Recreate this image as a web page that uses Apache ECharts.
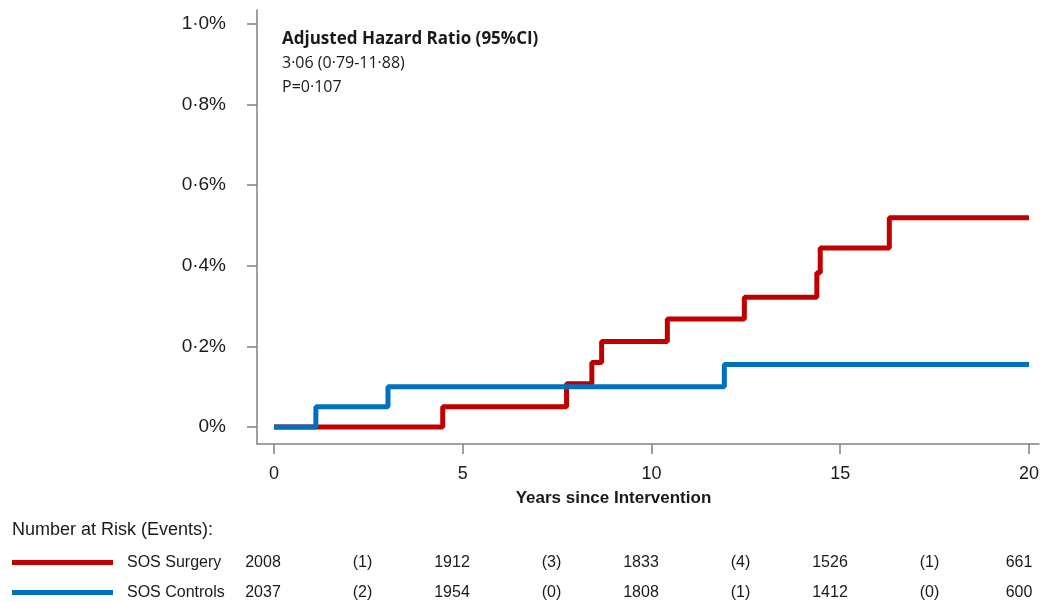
<!DOCTYPE html>
<html>
<head>
<meta charset="utf-8">
<script src="https://cdn.jsdelivr.net/npm/echarts@6/dist/echarts.min.js"></script>
<style>
  html, body { margin: 0; padding: 0; background: #fff; }
  #chart { width: 1042px; height: 602px; }
</style>
</head>
<body>
<div id="chart"></div>
<script>
// Cumulative incidence (%) step curves: [years, percent]
const surgeryCurve = [
  [0, 0], [4.47, 0.05], [7.75, 0.107], [8.42, 0.16], [8.68, 0.212],
  [10.42, 0.268], [12.46, 0.322], [14.38, 0.383], [14.47, 0.444],
  [16.3, 0.519], [20, 0.519]
];
const controlsCurve = [
  [0, 0], [1.11, 0.05], [3.02, 0.10], [11.93, 0.155], [20, 0.155]
];

// Axis ticks
const xTicks = [0, 5, 10, 15, 20];
const yTicks = [0, 0.2, 0.4, 0.6, 0.8, 1.0];

// Number at risk table
const groupNames = ['SOS Surgery', 'SOS Controls'];
const riskTimes = [0, 5, 10, 15, 20];
const eventTimes = [2.5, 7.5, 12.5, 17.5];
const surgeryAtRisk = [2008, 1912, 1833, 1526, 661];
const surgeryEvents = [1, 3, 4, 1];
const controlsAtRisk = [2037, 1954, 1808, 1412, 600];
const controlsEvents = [2, 0, 1, 0];

const RED = '#C00000';
const BLUE = '#0070C0';
const AXIS = '#808080';
const INK = '#1a1a1a';
const SANS = 'Liberation Sans, Arial, sans-serif';

function pct(v) {
  if (v === 0) return '0%';
  return v.toFixed(1).replace('.', '·') + '%';
}

function tableRow(times, values, group, paren) {
  return times.map((t, i) => ({
    value: [t, group],
    label: {
      formatter: paren ? '(' + values[i] + ')' : String(values[i]),
      offset: paren ? [-6, 0] : [-11, 0]
    }
  }));
}

const chart = echarts.init(document.getElementById('chart'), null, { renderer: 'canvas' });

chart.setOption({
  animation: false,
  backgroundColor: '#fff',
  title: {
    left: 277, top: 22,
    text: '{b|Adjusted Hazard Ratio (95%CI)}\n{n|3·06 (0·79-11·88)}\n{n|P=0·107}',
    textStyle: {
      fontWeight: 'normal',
      rich: {
        b: { fontFamily: 'Open Sans', fontWeight: 'bold', fontSize: 17, lineHeight: 24, color: INK },
        n: { fontFamily: 'Open Sans', fontWeight: 'normal', fontSize: 16, lineHeight: 24, color: INK }
      }
    }
  },
  graphic: [{
    type: 'text', left: 12, top: 521,
    style: { text: 'Number at Risk (Events):', font: '18px ' + SANS, fill: INK }
  }],
  legend: {
    data: groupNames, orient: 'vertical', left: 12, top: 553, padding: 0,
    icon: 'rect', itemWidth: 101, itemHeight: 5, itemGap: 11,
    selectedMode: false,
    textStyle: { fontFamily: SANS, fontSize: 16, lineHeight: 19, color: INK, padding: [0, 0, 0, 9] }
  },
  grid: [
    { left: 257, right: 2, top: 10, bottom: 158 },
    { left: 257, right: 2, top: 563, height: 30 }
  ],
  xAxis: [{
    type: 'value', gridIndex: 0, min: -0.4497, max: 20.264,
    axisLine: { show: true, onZero: false, lineStyle: { color: AXIS, width: 1.5 } },
    axisTick: { show: true, customValues: xTicks, length: 10, lineStyle: { color: AXIS, width: 1.5 } },
    axisLabel: { customValues: xTicks, margin: 21, fontFamily: SANS, fontSize: 18, color: INK },
    splitLine: { show: false },
    name: 'Years since Intervention', nameLocation: 'middle', nameGap: 46,
    nameTextStyle: { fontFamily: SANS, fontWeight: 'bold', fontSize: 17, color: INK, padding: [0, 69, 0, 0] }
  }, {
    type: 'value', gridIndex: 1, min: -0.4497, max: 20.264, show: false
  }],
  yAxis: [{
    type: 'value', gridIndex: 0, min: -0.0422, max: 1.0347,
    axisLine: { show: true, onZero: false, lineStyle: { color: AXIS, width: 1.5 } },
    axisTick: { show: true, customValues: yTicks, length: 10, lineStyle: { color: AXIS, width: 1.5 } },
    axisLabel: { customValues: yTicks, margin: 31, formatter: pct, fontFamily: SANS, fontSize: 19, color: INK },
    splitLine: { show: false }
  }, {
    type: 'category', gridIndex: 1, data: groupNames, inverse: true,
    boundaryGap: false, show: false
  }],
  series: [{
    name: 'SOS Surgery', type: 'line', step: 'end', data: surgeryCurve,
    showSymbol: false, symbol: 'none',
    lineStyle: { color: RED, width: 5 }, itemStyle: { color: RED }
  }, {
    name: 'SOS Controls', type: 'line', step: 'end', data: controlsCurve,
    showSymbol: false, symbol: 'none',
    lineStyle: { color: BLUE, width: 5 }, itemStyle: { color: BLUE }
  }, {
    name: 'risk table', type: 'scatter', xAxisIndex: 1, yAxisIndex: 1,
    symbolSize: 1, itemStyle: { opacity: 0 }, silent: true,
    label: {
      show: true, position: 'inside', opacity: 1,
      fontFamily: SANS, fontSize: 16, color: INK, textBorderWidth: 0
    },
    data: [].concat(
      tableRow(riskTimes, surgeryAtRisk, groupNames[0], false),
      tableRow(eventTimes, surgeryEvents, groupNames[0], true),
      tableRow(riskTimes, controlsAtRisk, groupNames[1], false),
      tableRow(eventTimes, controlsEvents, groupNames[1], true)
    )
  }]
});
</script>
</body>
</html>
